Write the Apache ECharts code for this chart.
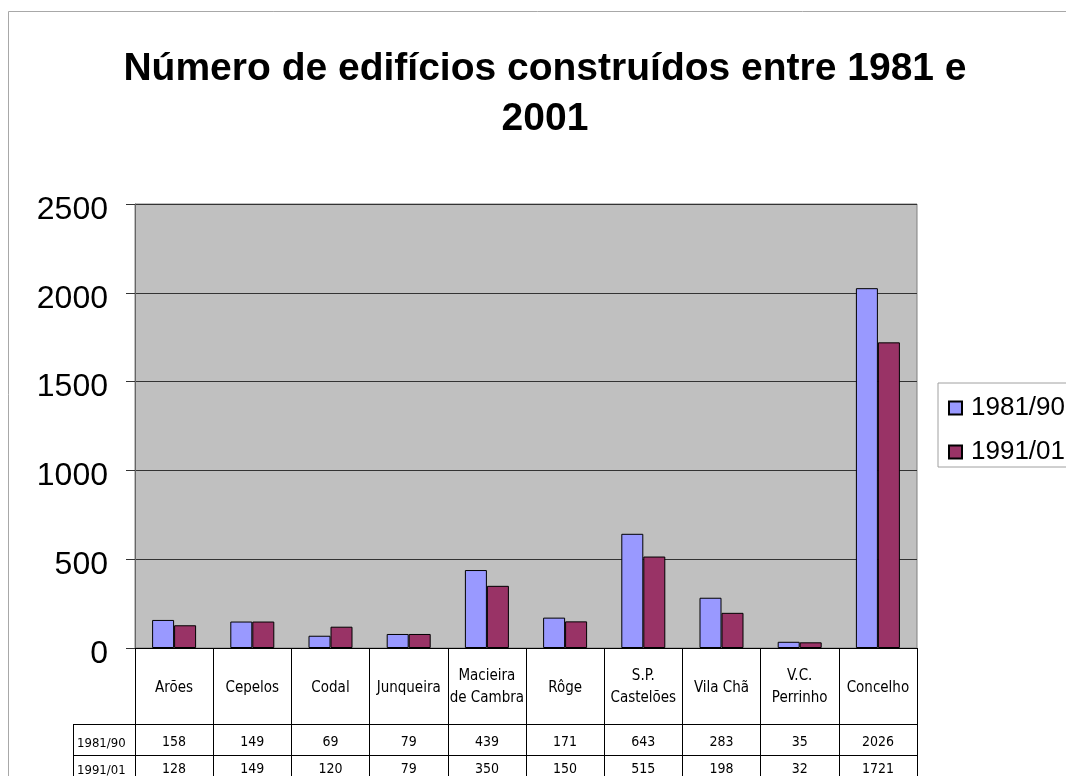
<!DOCTYPE html>
<html>
<head>
<meta charset="utf-8">
<script src="https://cdn.jsdelivr.net/npm/echarts@6/dist/echarts.min.js"></script>
<style>html,body{margin:0;padding:0;background:#fff;}#c{width:1066px;height:776px;}</style>
</head>
<body>
<div id="c"></div>
<script>
const titleText = 'Número de edifícios construídos entre 1981 e\n2001';
const categories = ['Arões', 'Cepelos', 'Codal', 'Junqueira', 'Macieira\nde Cambra', 'Rôge', 'S.P.\nCastelões', 'Vila Chã', 'V.C.\nPerrinho', 'Concelho'];
const seriesNames = ['1981/90', '1991/01'];
const values1981 = [158, 149, 69, 79, 439, 171, 643, 283, 35, 2026];
const values1991 = [128, 149, 120, 79, 350, 150, 515, 198, 32, 1721];
const yTicks = [0, 500, 1000, 1500, 2000, 2500];

const tableFont = "'DejaVu Sans Condensed', 'DejaVu Sans', sans-serif";
const chart = echarts.init(document.getElementById('c'));

function tableLabel(value, index) {
  const name = categories[index];
  const parts = name.split('\n');
  let head;
  if (parts.length === 2) {
    head = '{a| }\n{n|' + parts[0] + '}\n{n|' + parts[1] + '}\n{c| }';
  } else {
    head = '{b| }\n{n|' + name + '}\n{d| }';
  }
  return head + '\n{v|' + values1981[index] + '}\n{v|' + values1991[index] + '}';
}

const option = {
  animation: false,
  backgroundColor: '#ffffff',
  title: {
    text: titleText,
    left: 545,
    textAlign: 'center',
    top: 44,
    padding: 0,
    textStyle: { fontFamily: 'Liberation Sans, Arial, sans-serif', fontWeight: 'bold', fontSize: 39, lineHeight: 50, color: '#000' }
  },
  legend: {
    data: seriesNames,
    orient: 'vertical',
    left: 938,
    top: 383,
    padding: [12, 20, 2, 10],
    itemWidth: 13,
    itemHeight: 13,
    itemGap: 18,
    icon: 'rect',
    backgroundColor: '#ffffff',
    borderColor: '#a0a0a0',
    borderWidth: 1,
    textStyle: { fontFamily: 'Liberation Sans, Arial, sans-serif', fontSize: 26, color: '#000', padding: [0, 0, 0, 4] }
  },
  grid: {
    left: 135, right: 149, top: 204, bottom: 126,
    show: true, backgroundColor: '#c0c0c0', borderColor: '#808080', borderWidth: 1,
    containLabel: false
  },
  xAxis: {
    type: 'category',
    data: categories,
    axisLine: { lineStyle: { color: '#000', width: 1 } },
    axisTick: { show: true, interval: 0, length: 130, lineStyle: { color: '#000', width: 1 } },
    axisLabel: {
      interval: 0,
      margin: 0,
      formatter: tableLabel,
      color: '#000',
      fontFamily: tableFont,
      rich: {
        a: { lineHeight: 17, fontSize: 10 },
        b: { lineHeight: 29, fontSize: 10 },
        c: { lineHeight: 19.5, fontSize: 10 },
        d: { lineHeight: 29.5, fontSize: 10 },
        n: { lineHeight: 22, fontSize: 15, fontFamily: tableFont, color: '#000' },
        v: { lineHeight: 27, fontSize: 14, fontFamily: tableFont, color: '#000' }
      }
    },
    splitLine: { show: false }
  },
  yAxis: {
    type: 'value',
    min: yTicks[0],
    max: yTicks[yTicks.length - 1],
    interval: 500,
    axisLine: { show: true, lineStyle: { color: '#666', width: 1 } },
    axisTick: { show: true, length: 9, lineStyle: { color: '#333' } },
    axisLabel: {
      fontFamily: 'Liberation Sans, Arial, sans-serif', fontSize: 32, color: '#000', margin: 27,
      verticalAlign: 'top', lineHeight: 12,
      formatter: function (v) { return String(v); }
    },
    splitLine: { show: true, lineStyle: { color: '#333', width: 1 } }
  },
  series: [
    {
      name: seriesNames[0], type: 'bar', data: values1981, barWidth: 22, barGap: '0%',
      itemStyle: { color: '#9999ff', borderColor: '#000', borderWidth: 1 }
    },
    {
      name: seriesNames[1], type: 'bar', data: values1991, barWidth: 22, barGap: '0%',
      itemStyle: { color: '#993366', borderColor: '#000', borderWidth: 1 }
    }
  ],
  graphic: [
    { type: 'rect', z: -10, shape: { x: 8.5, y: 11.5, width: 1200, height: 900 }, style: { fill: 'none', stroke: '#a8a8a8', lineWidth: 1 } },
    { type: 'line', shape: { x1: 73, y1: 724.5, x2: 917, y2: 724.5 }, style: { stroke: '#000', lineWidth: 1 } },
    { type: 'line', shape: { x1: 73, y1: 755.5, x2: 917, y2: 755.5 }, style: { stroke: '#000', lineWidth: 1 } },
    { type: 'line', shape: { x1: 73.5, y1: 724, x2: 73.5, y2: 780 }, style: { stroke: '#000', lineWidth: 1 } },
    { type: 'text', x: 77, y: 744, style: { text: seriesNames[0], font: "13px 'DejaVu Sans Condensed', 'DejaVu Sans', sans-serif", fill: '#000', verticalAlign: 'middle', textAlign: 'left' } },
    { type: 'text', x: 77, y: 771, style: { text: seriesNames[1], font: "13px 'DejaVu Sans Condensed', 'DejaVu Sans', sans-serif", fill: '#000', verticalAlign: 'middle', textAlign: 'left' } }
  ]
};
chart.setOption(option);
</script>
</body>
</html>
